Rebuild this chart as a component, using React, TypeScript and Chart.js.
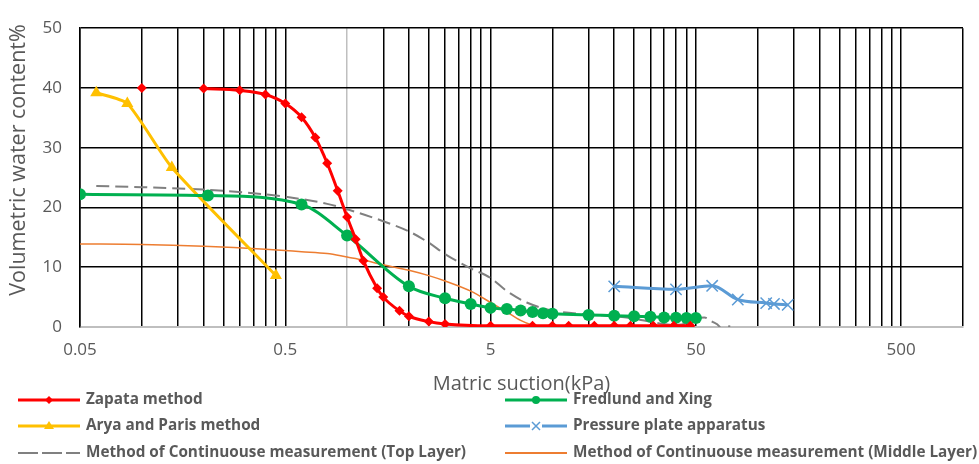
import React, { useEffect, useRef } from 'react';
import { Chart, registerables } from 'chart.js';

Chart.register(...registerables);

// ---------- data ----------
const xTickValues = [
  0.05, 0.1, 0.15, 0.2, 0.25, 0.3, 0.35, 0.4, 0.45,
  0.5, 1, 1.5, 2, 2.5, 3, 3.5, 4, 4.5,
  5, 10, 15, 20, 25, 30, 35, 40, 45,
  50, 100, 150, 200, 250, 300, 350, 400, 450,
  500, 1000,
];
const xTickLabels = ['0.05', '0.5', '5', '50', '500'];
const yTickValues = [0, 10, 20, 30, 40, 50];

const zapataX = [0.1, 0.15, 0.2, 0.3, 0.4, 0.5, 0.6, 0.7, 0.8, 0.9, 1.0, 1.1, 1.2, 1.4, 1.5, 1.8, 2, 2.5, 3, 5, 8, 10, 12, 16, 20, 24, 31, 39, 47];
const zapataY = [40, null, 39.9, 39.6, 38.9, 37.4, 35.1, 31.7, 27.4, 22.8, 18.4, 14.7, 11.1, 6.5, 5.0, 2.7, 1.8, 0.9, 0.5, 0.2, 0.2, 0.2, 0.2, 0.2, 0.2, 0.2, 0.2, 0.2, 0.2];

const fredlundX = [0.05, 0.21, 0.6, 1.0, 2.0, 3.0, 4.0, 5.0, 6.0, 7.0, 8.0, 9.0, 10, 15, 20, 25, 30, 35, 40, 45, 50];
const fredlundY = [22.2, 22.0, 20.5, 15.3, 6.8, 4.8, 3.85, 3.2, 3.0, 2.75, 2.5, 2.3, 2.2, 2.0, 1.9, 1.8, 1.7, 1.6, 1.55, 1.5, 1.5];

const aryaX = [0.06, 0.085, 0.14, 0.45];
const aryaY = [39.2, 37.4, 26.7, 8.6];

const plateX = [20, 40, 60, 80, 110, 120, 140];
const plateY = [6.8, 6.3, 6.9, 4.6, 4.0, 3.85, 3.7];

const topLayerX = [0.06, 0.1, 0.2, 0.4, 0.6, 0.8, 1.0, 1.5, 2.0, 2.5, 3.0, 4.0, 5.0, 6.0, 7.5, 10, 15, 20, 25, 30, 35, 40, 45, 50, 55, 60, 65, 69, 74];
const topLayerY = [23.6, 23.4, 23.0, 22.2, 21.4, 20.6, 19.7, 17.7, 16.0, 14.1, 12.2, 9.8, 8.2, 6.0, 4.1, 2.76, 2.1, 1.8, 1.4, 0.9, 0.5, 0.35, 0.6, 1.4, 1.6, 0.9, 0.1, -1.5, 0.8];

const middleLayerX = [0.05, 0.1, 0.2, 0.4, 0.6, 0.8, 1.0, 1.2, 1.5, 2.0, 2.5, 3.0, 4.0, 5.0, 6.0, 7.0, 8.0, 8.8];
const middleLayerY = [13.9, 13.8, 13.5, 13.0, 12.6, 12.3, 11.7, 11.2, 10.4, 9.5, 8.6, 7.7, 6.0, 4.1, 2.5, 1.1, 0.3, 0];

const seriesNames = [
  'Zapata method',
  'Fredlund and Xing',
  'Arya and Paris method',
  'Pressure plate apparatus',
  'Method of Continuouse measurement (Top Layer)',
  'Method of Continuouse measurement (Middle Layer)',
];
const xTitle = 'Matric suction(kPa)';
const yTitle = 'Volumetric water content%';

// ---------- styles ----------
const TEXT = '#595959';
const FONT = '"Open Sans", sans-serif';
const RED = '#ff0000';
const GREEN = '#00b050';
const YELLOW = '#ffc000';
const BLUE = '#5b9bd5';
const GRAY = '#808080';
const ORANGE = '#ed7d31';

function pts(xs: number[], ys: (number | null)[]) {
  return xs.map((x, i) => ({ x, y: ys[i] }));
}

type LegendItem = { label: string; color: string; marker: string; dash?: number[]; width: number; col: number; row: number };

const legendItems: LegendItem[] = [
  { label: seriesNames[0], color: RED, marker: 'diamond', width: 3, col: 0, row: 0 },
  { label: seriesNames[1], color: GREEN, marker: 'circle', width: 3, col: 1, row: 0 },
  { label: seriesNames[2], color: YELLOW, marker: 'triangle', width: 3, col: 0, row: 1 },
  { label: seriesNames[3], color: BLUE, marker: 'cross', width: 3, col: 1, row: 1 },
  { label: seriesNames[4], color: GRAY, marker: 'none', dash: [20, 4], width: 2, col: 0, row: 2 },
  { label: seriesNames[5], color: ORANGE, marker: 'none', width: 2, col: 1, row: 2 },
];

const overlayPlugin = {
  id: 'overlay',
  afterDraw(chart: any) {
    const ctx: CanvasRenderingContext2D = chart.ctx;
    const area = chart.chartArea;
    ctx.save();
    ctx.fillStyle = TEXT;
    ctx.textAlign = 'center';
    ctx.textBaseline = 'middle';
    ctx.font = `20px ${FONT}`;
    ctx.fillText(xTitle, (area.left + area.right) / 2, 384);
    ctx.save();
    ctx.translate(19, 160);
    ctx.rotate(-Math.PI / 2);
    ctx.font = `21.5px ${FONT}`;
    ctx.fillText(yTitle, 0, 0);
    ctx.restore();

    const colX = [18, 505];
    const rowY = [400, 426, 453];
    ctx.font = `bold 15.3px ${FONT}`;
    ctx.textAlign = 'left';
    for (const it of legendItems) {
      const x0 = colX[it.col];
      const x1 = x0 + 62;
      const y = rowY[it.row];
      const xm = (x0 + x1) / 2;
      ctx.strokeStyle = it.color;
      ctx.lineWidth = it.width;
      ctx.setLineDash(it.dash || []);
      ctx.beginPath();
      if (it.marker === 'cross') {
        ctx.moveTo(x0, y); ctx.lineTo(xm - 6, y);
        ctx.moveTo(xm + 6, y); ctx.lineTo(x1, y);
      } else {
        ctx.moveTo(x0, y); ctx.lineTo(x1, y);
      }
      ctx.stroke();
      ctx.setLineDash([]);
      ctx.fillStyle = it.color;
      if (it.marker === 'diamond') {
        ctx.beginPath();
        ctx.moveTo(xm - 4, y); ctx.lineTo(xm, y - 4); ctx.lineTo(xm + 4, y); ctx.lineTo(xm, y + 4);
        ctx.closePath(); ctx.fill();
      } else if (it.marker === 'circle') {
        ctx.beginPath(); ctx.arc(xm, y, 4, 0, Math.PI * 2); ctx.fill();
      } else if (it.marker === 'triangle') {
        ctx.beginPath();
        ctx.moveTo(xm, y - 5); ctx.lineTo(xm + 5, y + 3); ctx.lineTo(xm - 5, y + 3);
        ctx.closePath(); ctx.fill();
      } else if (it.marker === 'cross') {
        ctx.lineWidth = 1.5;
        ctx.beginPath();
        ctx.moveTo(xm - 4, y - 4); ctx.lineTo(xm + 4, y + 4);
        ctx.moveTo(xm + 4, y - 4); ctx.lineTo(xm - 4, y + 4);
        ctx.stroke();
      }
      ctx.fillStyle = TEXT;
      ctx.fillText(it.label, x1 + 6, y);
    }
    ctx.restore();
  },
};

export default function App() {
  const ref = useRef<HTMLCanvasElement | null>(null);

  useEffect(() => {
    if (!ref.current) return;
    const chart = new Chart(ref.current, {
      type: 'scatter',
      data: {
        datasets: [
          {
            label: seriesNames[0], data: pts(zapataX, zapataY), showLine: true, spanGaps: false,
            borderColor: RED, backgroundColor: RED, borderWidth: 3,
            pointStyle: 'rectRot', pointRadius: 5, pointBorderWidth: 0, cubicInterpolationMode: 'monotone',
          },
          {
            label: seriesNames[1], data: pts(fredlundX, fredlundY), showLine: true,
            borderColor: GREEN, backgroundColor: GREEN, borderWidth: 3,
            pointStyle: 'circle', pointRadius: 6, pointBorderWidth: 0, cubicInterpolationMode: 'monotone',
          },
          {
            label: seriesNames[2], data: pts(aryaX, aryaY), showLine: true,
            borderColor: YELLOW, backgroundColor: YELLOW, borderWidth: 3,
            pointStyle: 'triangle', pointRadius: 7, pointBorderWidth: 0, tension: 0.2,
          },
          {
            label: seriesNames[3], data: pts(plateX, plateY), showLine: true,
            borderColor: BLUE, backgroundColor: BLUE, borderWidth: 3,
            pointStyle: 'crossRot', pointRadius: 8, pointBorderWidth: 1.5, pointBorderColor: BLUE,
            cubicInterpolationMode: 'monotone',
          },
          {
            label: seriesNames[4], data: pts(topLayerX, topLayerY), showLine: true,
            borderColor: GRAY, backgroundColor: GRAY, borderWidth: 2, borderDash: [13, 6],
            pointRadius: 0, cubicInterpolationMode: 'monotone',
          },
          {
            label: seriesNames[5], data: pts(middleLayerX, middleLayerY), showLine: true,
            borderColor: ORANGE, backgroundColor: ORANGE, borderWidth: 1.5,
            pointRadius: 0, cubicInterpolationMode: 'monotone',
          },
        ],
      } as any,
      options: {
        animation: false,
        responsive: false,
        maintainAspectRatio: false,
        devicePixelRatio: 1,
        layout: { padding: { left: 0, right: 16, top: 19, bottom: 0 } },
        plugins: { legend: { display: false }, tooltip: { enabled: false } },
        scales: {
          x: {
            type: 'logarithmic',
            min: 0.05,
            max: 1000,
            afterBuildTicks: (axis: any) => {
              axis.ticks = xTickValues.map((v) => ({ value: v }));
            },
            afterFit: (axis: any) => { axis.height = 137; },
            ticks: {
              autoSkip: false,
              maxRotation: 0,
              padding: 13,
              color: TEXT,
              font: { family: FONT, size: 17 },
              callback: (v: any) => {
                const s = String(Number(v));
                return xTickLabels.includes(s) ? s : '';
              },
            },
            grid: {
              drawTicks: false,
              color: (c: any) => (c.tick && c.tick.value === 1 ? '#bfbfbf' : '#000000'),
              lineWidth: 1.5,
            },
            border: { color: '#bfbfbf', width: 2 },
          },
          y: {
            min: 0,
            max: 50,
            afterBuildTicks: (axis: any) => {
              axis.ticks = yTickValues.map((v) => ({ value: v }));
            },
            afterFit: (axis: any) => { axis.width = 80; },
            ticks: {
              padding: 18,
              color: TEXT,
              font: { family: FONT, size: 17 },
            },
            grid: {
              drawTicks: false,
              color: (c: any) => (c.tick && c.tick.value === 0 ? '#bfbfbf' : '#000000'),
              lineWidth: 1.5,
            },
            border: { color: '#000000', width: 1.5 },
          },
        },
      } as any,
      plugins: [overlayPlugin],
    });
    return () => chart.destroy();
  }, []);

  return (
    <div style={{ position: 'absolute', left: 0, top: 0, width: 979, height: 464, background: '#fff' }}>
      <canvas ref={ref} width={979} height={464} style={{ display: 'block' }} />
    </div>
  );
}
